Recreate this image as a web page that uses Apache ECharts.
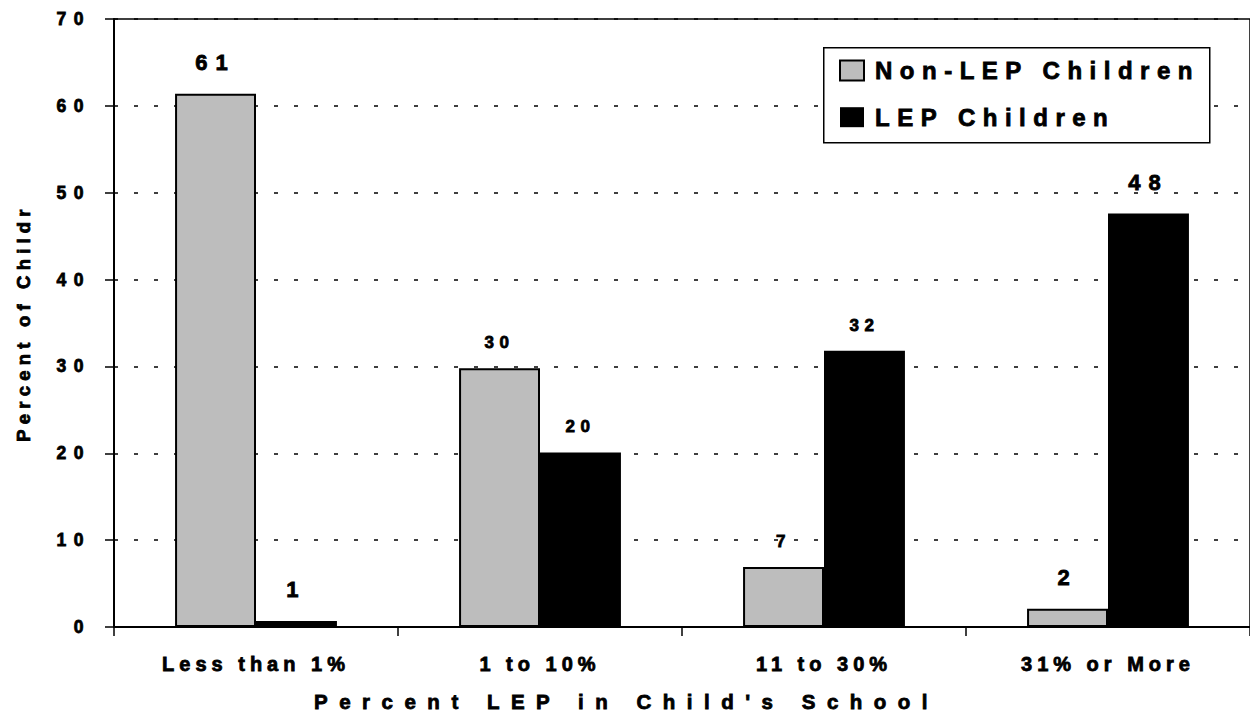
<!DOCTYPE html>
<html>
<head>
<meta charset="utf-8">
<script src="https://cdn.jsdelivr.net/npm/echarts@6/dist/echarts.min.js"></script>
<style>
html,body{margin:0;padding:0;background:#fff;}
#chart{width:1250px;height:715px;}
</style>
</head>
<body>
<div id="chart"></div>
<script>
// ---- data ----
const categories = ['Less than 1%', '1 to 10%', '11 to 30%', '31% or More'];
const seriesNames = ['Non-LEP Children', 'LEP Children'];
const nonLepValues = [61.4, 29.8, 6.9, 2.1];
const lepValues = [0.7, 20.1, 31.8, 47.6];
const yTicks = [0, 10, 20, 30, 40, 50, 60, 70];
const xTitle = "Percent LEP in Child's School";
const yTitle = 'Percent of Childr';

// ---- styling (not data) ----
const FONT = '"Liberation Sans", Arial, Helvetica, sans-serif';
const STROKE = {textBorderColor: '#000', textBorderWidth: 0.8};
const bigLabel = [[true, false, false, true], [true, false, false, true]];
// letter spacing per font size (px)
const spacingBySize = {17.5: 7.5, 17: 5.5, 20: 5, 20.5: 11.5, 18.5: 5.2, 22: 8, 24: 7.5};

function buildData(values, si) {
  return values.map((v, i) => {
    const big = bigLabel[si][i];
    return {
      value: v,
      label: {
        fontSize: big ? 22 : 17,
        distance: big ? 20 : 17
      }
    };
  });
}

const chart = echarts.init(document.getElementById('chart'), null, {renderer: 'svg'});
const option = {
  animation: false,
  backgroundColor: '#fff',
  title: {
    text: xTitle,
    left: 314, top: 691,
    padding: 0,
    textStyle: Object.assign({fontFamily: FONT, fontWeight: 'bold', fontSize: 20.5, color: '#000'}, STROKE)
  },
  grid: {
    left: 114, right: -10, top: 19, bottom: 88,
    show: true, borderColor: '#000', borderWidth: 1.5, backgroundColor: 'transparent'
  },
  legend: {
    orient: 'vertical',
    left: 834, top: 53,
    itemWidth: 24, itemHeight: 20, itemGap: 22,
    icon: 'rect',
    textStyle: Object.assign({fontFamily: FONT, fontWeight: 'bold', fontSize: 24, color: '#000', padding: [0, 0, 0, 6]}, STROKE),
    data: seriesNames
  },
  graphic: [{
    type: 'rect', z: 3, left: 823, top: 47,
    shape: {width: 386, height: 95},
    style: {fill: '#fff', stroke: '#000', lineWidth: 1.5}
  }],
  xAxis: {
    type: 'category',
    data: categories,
    axisLine: {lineStyle: {color: '#000', width: 2}},
    axisTick: {show: true, length: 9, lineStyle: {color: '#000', width: 1.5}},
    axisLabel: Object.assign({fontFamily: FONT, fontWeight: 'bold', fontSize: 20, color: '#000', margin: 27}, STROKE)
  },
  yAxis: {
    type: 'value',
    min: yTicks[0], max: yTicks[yTicks.length - 1], interval: yTicks[1] - yTicks[0],
    axisLine: {show: true, lineStyle: {color: '#000', width: 2}},
    axisTick: {show: true, length: 9, lineStyle: {color: '#000', width: 1.5}},
    axisLabel: Object.assign({fontFamily: FONT, fontWeight: 'bold', fontSize: 17.5, color: '#000', margin: 23}, STROKE),
    splitLine: {show: true, lineStyle: {color: '#000', width: 1.5, type: [4, 16]}},
    name: yTitle,
    nameLocation: 'middle',
    nameGap: 81,
    nameRotate: 90,
    nameTextStyle: Object.assign({fontFamily: FONT, fontWeight: 'bold', fontSize: 18.5, color: '#000'}, STROKE)
  },
  series: [
    {
      name: seriesNames[0], type: 'bar',
      barGap: '0%', barCategoryGap: '43%',
      itemStyle: {color: '#bdbdbd', borderColor: '#000', borderWidth: 2},
      label: Object.assign({show: true, position: 'top', color: '#000', fontFamily: FONT, fontWeight: 'bold',
        formatter: p => String(Math.round(p.value))}, STROKE),
      data: buildData(nonLepValues, 0)
    },
    {
      name: seriesNames[1], type: 'bar',
      itemStyle: {color: '#000', borderColor: '#000', borderWidth: 0},
      label: Object.assign({show: true, position: 'top', color: '#000', fontFamily: FONT, fontWeight: 'bold',
        formatter: p => String(Math.round(p.value))}, STROKE),
      data: buildData(lepValues, 1)
    }
  ]
};
chart.setOption(option);

function applySpacing() {
  document.querySelectorAll('#chart text').forEach(t => {
    const fs = parseFloat(getComputedStyle(t).fontSize);
    const key = Math.round(fs * 2) / 2;
    if (spacingBySize[key] !== undefined) {
      t.setAttribute('letter-spacing', spacingBySize[key] + 'px');
    }
  });
}
chart.on('finished', applySpacing);
chart.on('rendered', applySpacing);
setTimeout(applySpacing, 0);
setTimeout(applySpacing, 100);
</script>
</body>
</html>
